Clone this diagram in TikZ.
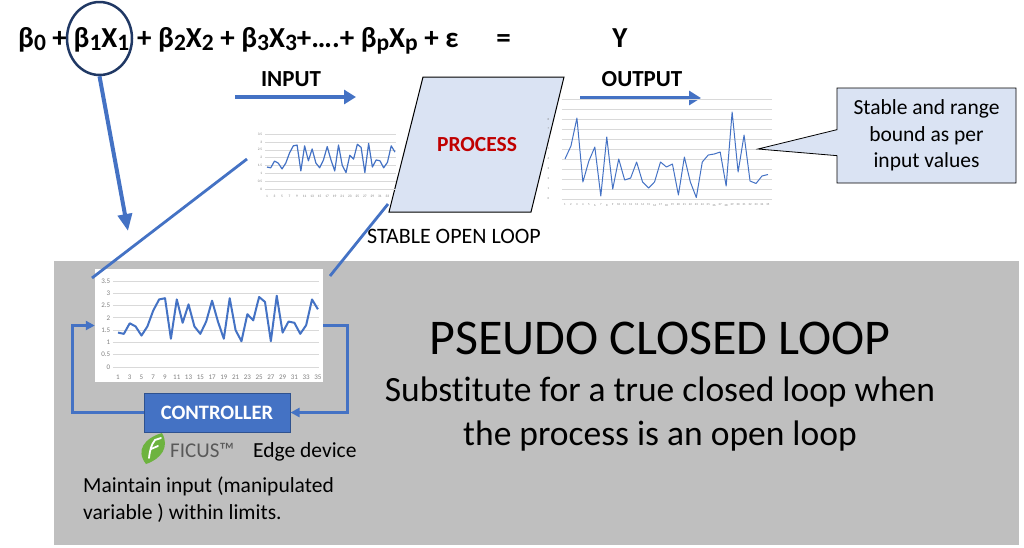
\documentclass[tikz,border=0pt]{standalone}
\usepackage{fontspec}
\setmainfont{Carlito}[Ligatures=NoCommon]
\usepackage{tikz}
\usetikzlibrary{arrows.meta,shapes.geometric,shapes.callouts,positioning}

\definecolor{chartblue}{HTML}{4472C4}
\definecolor{navy}{HTML}{203864}
\definecolor{boxblue}{HTML}{DAE3F3}
\definecolor{ctrlborder}{HTML}{2F528F}
\definecolor{procred}{HTML}{C00000}
\definecolor{gridgray}{HTML}{D9D9D9}
\definecolor{ticktext}{HTML}{7F7F7F}
\definecolor{panelgray}{HTML}{BFBFBF}
\definecolor{leafgreen}{HTML}{6DB33F}
\definecolor{ficusgray}{HTML}{595959}

\newcommand{\sbs}[1]{\raisebox{-3.5pt}{\fontsize{23.5}{23.5}\selectfont #1}}
\newcommand{\invals}{1.4,1.35,1.78,1.65,1.28,1.65,2.3,2.75,2.8,1.15,2.75,1.8,2.55,1.65,1.35,1.85,2.7,1.85,1.15,2.8,1.5,1.05,2.15,1.9,2.85,2.65,1.05,2.9,1.4,1.85,1.8,1.35,1.7,2.75,2.35}
\newcommand{\outvals}{4.0,5.3,8.1,1.7,3.8,5.2,0.3,6.2,1.0,4.0,1.9,2.1,3.7,1.7,1.1,1.7,3.7,3.2,3.5,0.4,4.2,1.7,0.15,3.7,4.4,4.5,4.7,1.3,8.7,2.7,6.4,1.8,1.55,2.3,2.45}

\begin{document}
\begin{tikzpicture}[x=1pt,y=-1pt,
	eqtext/.style={inner sep=0pt,font=\fontsize{29}{29}\selectfont\bfseries},
	headtext/.style={inner sep=0pt,font=\fontsize{23}{23}\selectfont\bfseries},
	bodytext/.style={inner sep=0pt,font=\fontsize{21.5}{26.5}\selectfont},
	bigarrow/.style={chartblue,line width=4.5pt,-{Triangle[length=12pt,width=14pt]}},
	fbline/.style={chartblue,line width=2.8pt,-{Triangle[length=9pt,width=9pt]}},
	zoomline/.style={chartblue,line width=2.8pt},
	gridline/.style={gridgray,line width=0.8pt},
	ticklabel/.style={ticktext,inner sep=0pt}]
	\useasboundingbox (0,0) rectangle (1024,547);
	\fill[panelgray] (54,261) rectangle (1019,545);

	% equation
	\node (eqa) [eqtext,anchor=base west] at (18,47) {β\sbs{0} +};
	\node (eqb) [eqtext,anchor=base] at (101.5,47) {β\sbs{1}X\sbs{1}};
	\node (eqc) [eqtext,anchor=base west] at (137,47) {+ β\sbs{2}X\sbs{2} + β\sbs{3}X\sbs{3}+….+ β\sbs{p}X\sbs{p} + ε};
	\node (eqd) [eqtext,anchor=base] at (503.5,47) {=};
	\node (eqy) [eqtext,anchor=base] at (620,47) {Y};
	\node (sel) [ellipse,draw=navy,line width=2.5pt,minimum width=65pt,minimum height=73pt,inner sep=0pt] at (99.5,38.5) {};
	\coordinate (seltip) at (128,231);
	\draw[chartblue,line width=4pt,-{Triangle[length=17pt,width=14pt]}] (sel.south) -- (seltip);

	% input and output arrows
	\node (inlabel) [headtext,anchor=base] at (291,86) {INPUT};
	\coordinate (inS) at (235,97);
	\coordinate (inE) at (356,97);
	\draw[bigarrow] (inS) -- (inE);
	\node (outlabel) [headtext,anchor=base] at (642,86) {OUTPUT};
	\coordinate (outS) at (580,98);
	\coordinate (outE) at (701,98);
	\draw[bigarrow] (outS) -- (outE);

	% process
	\draw[fill=boxblue,line width=1pt] (423,77) -- (564,77) -- (531,212) -- (389,212) -- cycle;
	\node (proc) [procred,inner sep=0pt,font=\fontsize{21.5}{21.5}\selectfont\bfseries] at (477,145) {PROCESS};
	\node (openloop) [inner sep=0pt,anchor=base,font=\fontsize{22}{22}\selectfont] at (454,243) {STABLE OPEN LOOP};

	% small input chart
	\begin{scope}[shift={(263.2,189)},x=3.765pt,y=15.7pt]
		\foreach \g in {0,0.5,1,1.5,2,2.5,3,3.5} {
			\draw[gridline,line width=0.5pt] (0.5,\g) -- (35.3,\g);
			\node[ticklabel,anchor=east,font=\fontsize{3.5}{3.5}\selectfont] at (-0.2,\g) {\g};
		}
		\foreach \k in {1,3,...,33}
			\node[ticklabel,font=\fontsize{3.5}{3.5}\selectfont] at (\k,-0.45) {\k};
		\draw[chartblue,line width=1.2pt,line join=round] (1,1.4) \foreach \v [count=\i] in \invals {-- (\i,\v)};
	\end{scope}

	% output chart
	\begin{scope}[shift={(559,199)},x=5.97pt,y=10pt]
		\foreach \g in {0,...,10}
			\draw[gridline,line width=0.5pt] (0.5,\g) -- (35.7,\g);
		\foreach \g in {0,...,8}
			\node[ticklabel,anchor=east,font=\fontsize{3}{3}\selectfont] at (-1.6,\g) {\g};
		\foreach \k in {1,...,35}
			\node[ticklabel,font=\fontsize{3}{3}\selectfont] at (\k,-0.6) {\k};
		\draw[chartblue,line width=1pt,line join=round] (1,4.0) \foreach \v [count=\i] in \outvals {-- (\i,\v)};
	\end{scope}

	% callout
	\node (note) [rectangle callout,draw,fill=boxblue,line width=0.8pt,minimum width=179pt,minimum height=95pt,
		callout absolute pointer={(758,149)},callout pointer width=26pt,
		bodytext,align=center] at (926.5,135.5) {\rule{0pt}{9pt}Stable and range\\bound as per\\input values};

	% big input chart
	\node (bigchart) [fill=white,minimum width=228pt,minimum height=113pt,inner sep=0pt] at (209,325.5) {};
	\begin{scope}[shift={(112.1,367)},x=5.88pt,y=24.57pt]
		\foreach \g in {0,0.5,1,1.5,2,2.5,3,3.5} {
			\draw[gridline] (0.15,\g) -- (35.2,\g);
			\node[ticklabel,anchor=east,font=\fontsize{7}{7}\selectfont] at (-0.3,\g) {\g};
		}
		\foreach \k in {1,3,...,35}
			\node[ticklabel,font=\fontsize{7}{7}\selectfont] at (\k,-0.42) {\k};
		\draw[chartblue,line width=2pt,line join=round] (1,1.4) \foreach \v [count=\i] in \invals {-- (\i,\v)};
	\end{scope}

	% zoom lines
	\coordinate (zsA) at (247,159);
	\coordinate (zbA) at (92,278);
	\coordinate (zsB) at (388,204);
	\coordinate (zbB) at (330,276);
	\draw[zoomline] (zsA) -- (zbA);
	\draw[zoomline] (zsB) -- (zbB);

	% controller and loop
	\node (ctrl) [fill=chartblue,draw=ctrlborder,line width=1pt,minimum width=146pt,minimum height=39pt,
		text=white,font=\fontsize{20.5}{20.5}\selectfont\bfseries] at (217,412.5) {CONTROLLER};
	\draw[fbline] (ctrl.west) -| ([xshift=-22pt]bigchart.west) -- (bigchart.west);
	\draw[fbline] (bigchart.east) -- ([xshift=24pt]bigchart.east) |- (ctrl.east);

	% ficus logo
	\fill[leafgreen] (146,464) .. controls (135,450) and (145,438) .. (162,433) .. controls (170,447) and (161,459) .. cycle;
	\draw[white,line width=1.8pt,line cap=round] (149,458) .. controls (150,450) and (151,445) .. (155,440) -- (161,438);
	\draw[white,line width=1.8pt,line cap=round] (151,449) -- (158,446);
	\node (ficus) [ficusgray,inner sep=0pt,anchor=base west,font=\fontsize{21}{21}\selectfont] at (170,457) {FICUS™};
	\node (edge) [inner sep=0pt,anchor=base west,font=\fontsize{21.5}{21.5}\selectfont] at (253,457) {Edge device};
	\node (maintain) [bodytext,anchor=north west,align=left] at (83,477) {Maintain input (manipulated\\variable ) within limits.};

	% pseudo closed loop
	\node (pseudo) [inner sep=0pt,anchor=base,font=\fontsize{50}{50}\selectfont] at (660,354) {PSEUDO CLOSED LOOP};
	\node (subst) [inner sep=0pt,anchor=north,align=center,font=\fontsize{35.5}{44}\selectfont] at (660,377) {Substitute for a true closed loop when\\the process is an open loop};
\end{tikzpicture}
\end{document}
